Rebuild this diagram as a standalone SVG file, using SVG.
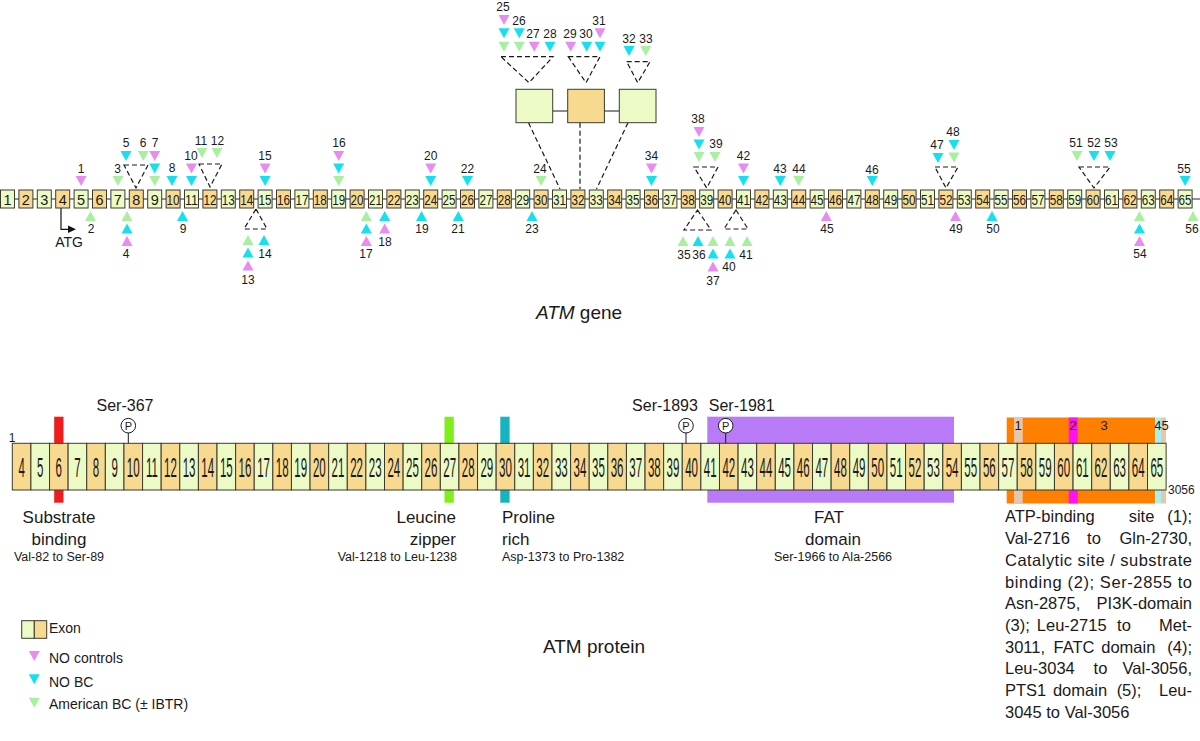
<svg xmlns="http://www.w3.org/2000/svg" width="1200" height="741" viewBox="0 0 1200 741">
<style>
text{font-family:"Liberation Sans",Arial,sans-serif;fill:#1a1a1a}
.eg{fill:#ecfbc6;stroke:#3b3b30;stroke-width:1}
.eo{fill:#f7d98f;stroke:#3b3b30;stroke-width:1}
.en{font-size:14.5px;text-anchor:middle}
.ml{font-size:12px;text-anchor:middle}
.pk{fill:#e88cf2}
.cy{fill:#14e0f0}
.gr{fill:#a8f0a0}
.dash{fill:none;stroke:#1a1a1a;stroke-width:1.2;stroke-dasharray:5 3}
.bb{stroke:#6e6e6e;stroke-width:1.6}
.pn{font-size:16px;text-anchor:middle}
.lbl{font-size:17px}
.rng{font-size:12.5px}
.par{font-size:16.5px}
.leg{font-size:14px}
.ser{font-size:16px;text-anchor:middle}
.pc{fill:#fff;stroke:#1a1a1a;stroke-width:1}
.pt{font-size:11px;text-anchor:middle}
.dl{font-size:13px;text-anchor:middle}
.sm{font-size:12px}
.ttl{font-size:19px;text-anchor:middle}
</style>
<defs>
<polygon id="td" points="-5.5,0 5.5,0 0,10"/>
<polygon id="tu" points="0,0 5.5,10 -5.5,10"/>
</defs>

<g id="connectors">
<line class="bb" x1="0" y1="199" x2="1200" y2="199"/>
<line class="bb" x1="552.7" y1="111" x2="567.7" y2="111"/>
<line class="bb" x1="604.3" y1="111" x2="619.3" y2="111"/>
<line class="dash" x1="528.5" y1="122.7" x2="560" y2="189"/>
<line class="dash" x1="580" y1="122.7" x2="580" y2="189"/>
<line class="dash" x1="628" y1="122.7" x2="596.5" y2="189"/>
<polygon class="dash" points="501,56.7 553,56.7 529,82.7"/>
<polygon class="dash" points="568.3,56.7 600,56.7 586,82.7"/>
<polygon class="dash" points="626.7,61.7 650,61.7 637.7,82.7"/>
<polygon class="dash" points="124,165 148,165 136,188"/>
<polygon class="dash" points="199,164 222,164 210,187"/>
<polygon class="dash" points="256,209 267,229 244,229"/>
<polygon class="dash" points="694,167 718,167 706.7,188"/>
<polygon class="dash" points="697.5,210 711,230 684,230"/>
<polygon class="dash" points="736,210 748,229 724,229"/>
<polygon class="dash" points="935,167 958,167 946,188"/>
<polygon class="dash" points="1079,167 1110,167 1094,188"/>
<path d="M61,208 V229.3 H70" fill="none" stroke="#111" stroke-width="1.2"/>
<polygon points="68,225.5 76,229.3 68,233" fill="#111"/>
</g>

<g id="inset">
<rect id="insetA" class="eg" x="516" y="89.3" width="36.7" height="33.4"/>
<rect id="insetB" class="eo" x="567.7" y="89.3" width="36.7" height="33.4"/>
<rect id="insetC" class="eg" x="619.3" y="89.3" width="36.7" height="33.4"/>
</g>

<g id="gene">
<g id="exon1" transform="translate(0.5 190)"><rect class="eg" width="14" height="18"/><text class="en" x="7" y="15">1</text></g>
<g id="exon2" transform="translate(18.9 190)"><rect class="eo" width="14" height="18"/><text class="en" x="7" y="15">2</text></g>
<g id="exon3" transform="translate(37.3 190)"><rect class="eg" width="14" height="18"/><text class="en" x="7" y="15">3</text></g>
<g id="exon4" transform="translate(55.7 190)"><rect class="eo" width="14" height="18"/><text class="en" x="7" y="15">4</text></g>
<g id="exon5" transform="translate(74.1 190)"><rect class="eg" width="14" height="18"/><text class="en" x="7" y="15">5</text></g>
<g id="exon6" transform="translate(92.5 190)"><rect class="eo" width="14" height="18"/><text class="en" x="7" y="15">6</text></g>
<g id="exon7" transform="translate(110.9 190)"><rect class="eg" width="14" height="18"/><text class="en" x="7" y="15">7</text></g>
<g id="exon8" transform="translate(129.3 190)"><rect class="eo" width="14" height="18"/><text class="en" x="7" y="15">8</text></g>
<g id="exon9" transform="translate(147.7 190)"><rect class="eg" width="14" height="18"/><text class="en" x="7" y="15">9</text></g>
<g id="exon10" transform="translate(166.1 190)"><rect class="eo" width="14" height="18"/><text class="en" x="7" y="15" textLength="13" lengthAdjust="spacingAndGlyphs">10</text></g>
<g id="exon11" transform="translate(184.5 190)"><rect class="eg" width="14" height="18"/><text class="en" x="7" y="15" textLength="13" lengthAdjust="spacingAndGlyphs">11</text></g>
<g id="exon12" transform="translate(202.9 190)"><rect class="eo" width="14" height="18"/><text class="en" x="7" y="15" textLength="13" lengthAdjust="spacingAndGlyphs">12</text></g>
<g id="exon13" transform="translate(221.3 190)"><rect class="eg" width="14" height="18"/><text class="en" x="7" y="15" textLength="13" lengthAdjust="spacingAndGlyphs">13</text></g>
<g id="exon14" transform="translate(239.7 190)"><rect class="eo" width="14" height="18"/><text class="en" x="7" y="15" textLength="13" lengthAdjust="spacingAndGlyphs">14</text></g>
<g id="exon15" transform="translate(258.1 190)"><rect class="eg" width="14" height="18"/><text class="en" x="7" y="15" textLength="13" lengthAdjust="spacingAndGlyphs">15</text></g>
<g id="exon16" transform="translate(276.5 190)"><rect class="eo" width="14" height="18"/><text class="en" x="7" y="15" textLength="13" lengthAdjust="spacingAndGlyphs">16</text></g>
<g id="exon17" transform="translate(294.9 190)"><rect class="eg" width="14" height="18"/><text class="en" x="7" y="15" textLength="13" lengthAdjust="spacingAndGlyphs">17</text></g>
<g id="exon18" transform="translate(313.3 190)"><rect class="eo" width="14" height="18"/><text class="en" x="7" y="15" textLength="13" lengthAdjust="spacingAndGlyphs">18</text></g>
<g id="exon19" transform="translate(331.7 190)"><rect class="eg" width="14" height="18"/><text class="en" x="7" y="15" textLength="13" lengthAdjust="spacingAndGlyphs">19</text></g>
<g id="exon20" transform="translate(350.1 190)"><rect class="eo" width="14" height="18"/><text class="en" x="7" y="15" textLength="13" lengthAdjust="spacingAndGlyphs">20</text></g>
<g id="exon21" transform="translate(368.5 190)"><rect class="eg" width="14" height="18"/><text class="en" x="7" y="15" textLength="13" lengthAdjust="spacingAndGlyphs">21</text></g>
<g id="exon22" transform="translate(386.9 190)"><rect class="eo" width="14" height="18"/><text class="en" x="7" y="15" textLength="13" lengthAdjust="spacingAndGlyphs">22</text></g>
<g id="exon23" transform="translate(405.3 190)"><rect class="eg" width="14" height="18"/><text class="en" x="7" y="15" textLength="13" lengthAdjust="spacingAndGlyphs">23</text></g>
<g id="exon24" transform="translate(423.7 190)"><rect class="eo" width="14" height="18"/><text class="en" x="7" y="15" textLength="13" lengthAdjust="spacingAndGlyphs">24</text></g>
<g id="exon25" transform="translate(442.1 190)"><rect class="eg" width="14" height="18"/><text class="en" x="7" y="15" textLength="13" lengthAdjust="spacingAndGlyphs">25</text></g>
<g id="exon26" transform="translate(460.5 190)"><rect class="eo" width="14" height="18"/><text class="en" x="7" y="15" textLength="13" lengthAdjust="spacingAndGlyphs">26</text></g>
<g id="exon27" transform="translate(478.9 190)"><rect class="eg" width="14" height="18"/><text class="en" x="7" y="15" textLength="13" lengthAdjust="spacingAndGlyphs">27</text></g>
<g id="exon28" transform="translate(497.3 190)"><rect class="eo" width="14" height="18"/><text class="en" x="7" y="15" textLength="13" lengthAdjust="spacingAndGlyphs">28</text></g>
<g id="exon29" transform="translate(515.7 190)"><rect class="eg" width="14" height="18"/><text class="en" x="7" y="15" textLength="13" lengthAdjust="spacingAndGlyphs">29</text></g>
<g id="exon30" transform="translate(534.1 190)"><rect class="eo" width="14" height="18"/><text class="en" x="7" y="15" textLength="13" lengthAdjust="spacingAndGlyphs">30</text></g>
<g id="exon31" transform="translate(552.5 190)"><rect class="eg" width="14" height="18"/><text class="en" x="7" y="15" textLength="13" lengthAdjust="spacingAndGlyphs">31</text></g>
<g id="exon32" transform="translate(570.9 190)"><rect class="eo" width="14" height="18"/><text class="en" x="7" y="15" textLength="13" lengthAdjust="spacingAndGlyphs">32</text></g>
<g id="exon33" transform="translate(589.3 190)"><rect class="eg" width="14" height="18"/><text class="en" x="7" y="15" textLength="13" lengthAdjust="spacingAndGlyphs">33</text></g>
<g id="exon34" transform="translate(607.7 190)"><rect class="eo" width="14" height="18"/><text class="en" x="7" y="15" textLength="13" lengthAdjust="spacingAndGlyphs">34</text></g>
<g id="exon35" transform="translate(626.1 190)"><rect class="eg" width="14" height="18"/><text class="en" x="7" y="15" textLength="13" lengthAdjust="spacingAndGlyphs">35</text></g>
<g id="exon36" transform="translate(644.5 190)"><rect class="eo" width="14" height="18" stroke="#000" stroke-width="1.5"/><text class="en" x="7" y="15" textLength="13" lengthAdjust="spacingAndGlyphs">36</text></g>
<g id="exon37" transform="translate(662.9 190)"><rect class="eg" width="14" height="18"/><text class="en" x="7" y="15" textLength="13" lengthAdjust="spacingAndGlyphs">37</text></g>
<g id="exon38" transform="translate(681.3 190)"><rect class="eo" width="14" height="18"/><text class="en" x="7" y="15" textLength="13" lengthAdjust="spacingAndGlyphs">38</text></g>
<g id="exon39" transform="translate(699.7 190)"><rect class="eg" width="14" height="18"/><text class="en" x="7" y="15" textLength="13" lengthAdjust="spacingAndGlyphs">39</text></g>
<g id="exon40" transform="translate(718.1 190)"><rect class="eo" width="14" height="18"/><text class="en" x="7" y="15" textLength="13" lengthAdjust="spacingAndGlyphs">40</text></g>
<g id="exon41" transform="translate(736.5 190)"><rect class="eg" width="14" height="18"/><text class="en" x="7" y="15" textLength="13" lengthAdjust="spacingAndGlyphs">41</text></g>
<g id="exon42" transform="translate(754.9 190)"><rect class="eo" width="14" height="18"/><text class="en" x="7" y="15" textLength="13" lengthAdjust="spacingAndGlyphs">42</text></g>
<g id="exon43" transform="translate(773.3 190)"><rect class="eg" width="14" height="18"/><text class="en" x="7" y="15" textLength="13" lengthAdjust="spacingAndGlyphs">43</text></g>
<g id="exon44" transform="translate(791.7 190)"><rect class="eo" width="14" height="18"/><text class="en" x="7" y="15" textLength="13" lengthAdjust="spacingAndGlyphs">44</text></g>
<g id="exon45" transform="translate(810.1 190)"><rect class="eg" width="14" height="18"/><text class="en" x="7" y="15" textLength="13" lengthAdjust="spacingAndGlyphs">45</text></g>
<g id="exon46" transform="translate(828.5 190)"><rect class="eo" width="14" height="18"/><text class="en" x="7" y="15" textLength="13" lengthAdjust="spacingAndGlyphs">46</text></g>
<g id="exon47" transform="translate(846.9 190)"><rect class="eg" width="14" height="18"/><text class="en" x="7" y="15" textLength="13" lengthAdjust="spacingAndGlyphs">47</text></g>
<g id="exon48" transform="translate(865.3 190)"><rect class="eo" width="14" height="18"/><text class="en" x="7" y="15" textLength="13" lengthAdjust="spacingAndGlyphs">48</text></g>
<g id="exon49" transform="translate(883.7 190)"><rect class="eg" width="14" height="18"/><text class="en" x="7" y="15" textLength="13" lengthAdjust="spacingAndGlyphs">49</text></g>
<g id="exon50" transform="translate(902.1 190)"><rect class="eo" width="14" height="18"/><text class="en" x="7" y="15" textLength="13" lengthAdjust="spacingAndGlyphs">50</text></g>
<g id="exon51" transform="translate(920.5 190)"><rect class="eg" width="14" height="18"/><text class="en" x="7" y="15" textLength="13" lengthAdjust="spacingAndGlyphs">51</text></g>
<g id="exon52" transform="translate(938.9 190)"><rect class="eo" width="14" height="18"/><text class="en" x="7" y="15" textLength="13" lengthAdjust="spacingAndGlyphs">52</text></g>
<g id="exon53" transform="translate(957.3 190)"><rect class="eg" width="14" height="18"/><text class="en" x="7" y="15" textLength="13" lengthAdjust="spacingAndGlyphs">53</text></g>
<g id="exon54" transform="translate(975.7 190)"><rect class="eo" width="14" height="18"/><text class="en" x="7" y="15" textLength="13" lengthAdjust="spacingAndGlyphs">54</text></g>
<g id="exon55" transform="translate(994.1 190)"><rect class="eg" width="14" height="18"/><text class="en" x="7" y="15" textLength="13" lengthAdjust="spacingAndGlyphs">55</text></g>
<g id="exon56" transform="translate(1012.5 190)"><rect class="eo" width="14" height="18"/><text class="en" x="7" y="15" textLength="13" lengthAdjust="spacingAndGlyphs">56</text></g>
<g id="exon57" transform="translate(1030.9 190)"><rect class="eg" width="14" height="18"/><text class="en" x="7" y="15" textLength="13" lengthAdjust="spacingAndGlyphs">57</text></g>
<g id="exon58" transform="translate(1049.3 190)"><rect class="eo" width="14" height="18"/><text class="en" x="7" y="15" textLength="13" lengthAdjust="spacingAndGlyphs">58</text></g>
<g id="exon59" transform="translate(1067.7 190)"><rect class="eg" width="14" height="18"/><text class="en" x="7" y="15" textLength="13" lengthAdjust="spacingAndGlyphs">59</text></g>
<g id="exon60" transform="translate(1086.1 190)"><rect class="eo" width="14" height="18"/><text class="en" x="7" y="15" textLength="13" lengthAdjust="spacingAndGlyphs">60</text></g>
<g id="exon61" transform="translate(1104.5 190)"><rect class="eg" width="14" height="18"/><text class="en" x="7" y="15" textLength="13" lengthAdjust="spacingAndGlyphs">61</text></g>
<g id="exon62" transform="translate(1122.9 190)"><rect class="eo" width="14" height="18"/><text class="en" x="7" y="15" textLength="13" lengthAdjust="spacingAndGlyphs">62</text></g>
<g id="exon63" transform="translate(1141.3 190)"><rect class="eg" width="14" height="18"/><text class="en" x="7" y="15" textLength="13" lengthAdjust="spacingAndGlyphs">63</text></g>
<g id="exon64" transform="translate(1159.7 190)"><rect class="eo" width="14" height="18"/><text class="en" x="7" y="15" textLength="13" lengthAdjust="spacingAndGlyphs">64</text></g>
<g id="exon65" transform="translate(1178.1 190)"><rect class="eg" width="14" height="18"/><text class="en" x="7" y="15" textLength="13" lengthAdjust="spacingAndGlyphs">65</text></g>
<text id="atg" x="69" y="247" font-size="14" text-anchor="middle">ATG</text>
</g>

<g id="mutations">
<g id="m1"><use href="#td" x="81.1" y="176" class="pk"/><text class="ml" x="81" y="173">1</text></g>
<g id="m2"><use href="#tu" x="90.5" y="211" class="gr"/><text class="ml" x="91" y="232.5">2</text></g>
<g id="m3"><use href="#td" x="117.9" y="176" class="gr"/><text class="ml" x="117.5" y="173">3</text></g>
<g id="m4"><use href="#tu" x="127" y="211" class="gr"/><use href="#tu" x="127" y="223.5" class="cy"/><use href="#tu" x="127" y="236" class="pk"/><text class="ml" x="126" y="257.5">4</text></g>
<g id="m5"><use href="#td" x="126" y="151" class="cy"/><text class="ml" x="126" y="147">5</text></g>
<g id="m6"><use href="#td" x="143.3" y="151" class="gr"/><text class="ml" x="143" y="147">6</text></g>
<g id="m7"><use href="#td" x="154.7" y="151" class="pk"/><use href="#td" x="154.7" y="163.5" class="cy"/><use href="#td" x="154.7" y="176" class="gr"/><text class="ml" x="155" y="147">7</text></g>
<g id="m8"><use href="#td" x="172" y="176" class="cy"/><text class="ml" x="172" y="172">8</text></g>
<g id="m9"><use href="#tu" x="182.5" y="211" class="cy"/><text class="ml" x="183" y="232.5">9</text></g>
<g id="m10"><use href="#td" x="191.5" y="163.5" class="pk"/><use href="#td" x="191.5" y="176" class="cy"/><text class="ml" x="191" y="160">10</text></g>
<g id="m11"><use href="#td" x="202" y="148" class="gr"/><text class="ml" x="201" y="144.5">11</text></g>
<g id="m12"><use href="#td" x="217" y="148" class="gr"/><text class="ml" x="217.5" y="144.5">12</text></g>
<g id="m13"><use href="#tu" x="248" y="235" class="gr"/><use href="#tu" x="248" y="247.5" class="cy"/><use href="#tu" x="248" y="260.5" class="pk"/><text class="ml" x="248" y="283.5">13</text></g>
<g id="m14"><use href="#tu" x="264" y="235" class="cy"/><text class="ml" x="265" y="257.5">14</text></g>
<g id="m15"><use href="#td" x="265.1" y="163.5" class="pk"/><use href="#td" x="265.1" y="176" class="cy"/><text class="ml" x="265" y="160">15</text></g>
<g id="m16"><use href="#td" x="338.7" y="151" class="pk"/><use href="#td" x="338.7" y="163.5" class="cy"/><use href="#td" x="338.7" y="176" class="gr"/><text class="ml" x="339" y="146.5">16</text></g>
<g id="m17"><use href="#tu" x="366.3" y="211" class="gr"/><use href="#tu" x="366.3" y="223.5" class="cy"/><use href="#tu" x="366.3" y="236" class="pk"/><text class="ml" x="366" y="258">17</text></g>
<g id="m18"><use href="#tu" x="384.7" y="211" class="cy"/><use href="#tu" x="384.7" y="223.5" class="pk"/><text class="ml" x="385" y="246">18</text></g>
<g id="m19"><use href="#tu" x="421.5" y="211" class="cy"/><text class="ml" x="422" y="233">19</text></g>
<g id="m20"><use href="#td" x="430.7" y="163.5" class="pk"/><use href="#td" x="430.7" y="176" class="cy"/><text class="ml" x="430.7" y="160">20</text></g>
<g id="m21"><use href="#tu" x="458.3" y="211" class="cy"/><text class="ml" x="458" y="233">21</text></g>
<g id="m22"><use href="#td" x="467.5" y="176" class="cy"/><text class="ml" x="467.5" y="173">22</text></g>
<g id="m23"><use href="#tu" x="532" y="211" class="cy"/><text class="ml" x="532" y="233">23</text></g>
<g id="m24"><use href="#td" x="541.1" y="176" class="gr"/><text class="ml" x="540" y="173">24</text></g>
<g id="m25"><use href="#td" x="504" y="15" class="pk"/><use href="#td" x="504" y="28.3" class="cy"/><use href="#td" x="504" y="41.7" class="gr"/><text class="ml" x="503" y="10.5">25</text></g>
<g id="m26"><use href="#td" x="519.3" y="28.3" class="cy"/><use href="#td" x="519.3" y="41.7" class="gr"/><text class="ml" x="519" y="25">26</text></g>
<g id="m27"><use href="#td" x="534.3" y="41.7" class="pk"/><text class="ml" x="533" y="37.5">27</text></g>
<g id="m28"><use href="#td" x="550" y="41.7" class="cy"/><text class="ml" x="550" y="37.5">28</text></g>
<g id="m29"><use href="#td" x="570.7" y="41.7" class="pk"/><text class="ml" x="570" y="37.5">29</text></g>
<g id="m30"><use href="#td" x="586.7" y="41.7" class="cy"/><text class="ml" x="586" y="37.5">30</text></g>
<g id="m31"><use href="#td" x="600" y="28.3" class="pk"/><use href="#td" x="600" y="41.7" class="cy"/><text class="ml" x="599" y="25">31</text></g>
<g id="m32"><use href="#td" x="629" y="46" class="cy"/><text class="ml" x="629" y="42.5">32</text></g>
<g id="m33"><use href="#td" x="645.7" y="46" class="gr"/><text class="ml" x="646" y="42.5">33</text></g>
<g id="m34"><use href="#td" x="651.5" y="163.5" class="pk"/><use href="#td" x="651.5" y="176" class="cy"/><text class="ml" x="651.5" y="160">34</text></g>
<g id="m35"><use href="#tu" x="683" y="236" class="gr"/><text class="ml" x="684" y="259">35</text></g>
<g id="m36"><use href="#tu" x="698" y="236" class="cy"/><text class="ml" x="699" y="259">36</text></g>
<g id="m37"><use href="#tu" x="713" y="236" class="gr"/><use href="#tu" x="713" y="248.5" class="cy"/><use href="#tu" x="713" y="261.5" class="pk"/><text class="ml" x="713" y="285">37</text></g>
<g id="m38"><use href="#td" x="699" y="127" class="pk"/><use href="#td" x="699" y="139.5" class="cy"/><use href="#td" x="699" y="152" class="gr"/><text class="ml" x="698" y="123">38</text></g>
<g id="m39"><use href="#td" x="715" y="152" class="gr"/><text class="ml" x="716" y="148">39</text></g>
<g id="m40"><use href="#tu" x="730" y="236" class="gr"/><use href="#tu" x="730" y="248.5" class="cy"/><text class="ml" x="729" y="271">40</text></g>
<g id="m41"><use href="#tu" x="747" y="236" class="gr"/><text class="ml" x="746" y="259">41</text></g>
<g id="m42"><use href="#td" x="743.5" y="163.5" class="pk"/><use href="#td" x="743.5" y="176" class="cy"/><text class="ml" x="743.5" y="160">42</text></g>
<g id="m43"><use href="#td" x="780.3" y="176" class="cy"/><text class="ml" x="780" y="173">43</text></g>
<g id="m44"><use href="#td" x="798.7" y="176" class="gr"/><text class="ml" x="799" y="173">44</text></g>
<g id="m45"><use href="#tu" x="826.3" y="211" class="pk"/><text class="ml" x="827" y="232.5">45</text></g>
<g id="m46"><use href="#td" x="872.3" y="176" class="cy"/><text class="ml" x="872" y="174">46</text></g>
<g id="m47"><use href="#td" x="938" y="153" class="cy"/><text class="ml" x="937" y="148.5">47</text></g>
<g id="m48"><use href="#td" x="954" y="140" class="cy"/><use href="#td" x="954" y="152.5" class="gr"/><text class="ml" x="953" y="136">48</text></g>
<g id="m49"><use href="#tu" x="955.5" y="211" class="pk"/><text class="ml" x="956" y="232.5">49</text></g>
<g id="m50"><use href="#tu" x="992" y="211" class="cy"/><text class="ml" x="993" y="233">50</text></g>
<g id="m51"><use href="#td" x="1077" y="151" class="gr"/><text class="ml" x="1076" y="147">51</text></g>
<g id="m52"><use href="#td" x="1094" y="151" class="cy"/><text class="ml" x="1094" y="147">52</text></g>
<g id="m53"><use href="#td" x="1110" y="151" class="cy"/><text class="ml" x="1111" y="147">53</text></g>
<g id="m54"><use href="#tu" x="1139.5" y="211" class="gr"/><use href="#tu" x="1139.5" y="223.5" class="cy"/><use href="#tu" x="1139.5" y="236" class="pk"/><text class="ml" x="1140" y="258">54</text></g>
<g id="m55"><use href="#td" x="1185.1" y="176" class="cy"/><text class="ml" x="1184" y="173">55</text></g>
<g id="m56"><use href="#tu" x="1193" y="211" class="gr"/><text class="ml" x="1192" y="233">56</text></g>
</g>

<text id="gene-title" class="ttl" x="579" y="318.5"><tspan font-style="italic">ATM</tspan> gene</text>

<g id="domains">
<rect id="d-substrate" x="54.2" y="416.7" width="9.3" height="86" fill="#ee1c1c"/>
<rect id="d-leucine" x="444.5" y="416.7" width="9.3" height="86" fill="#80ee18"/>
<rect id="d-proline" x="500.3" y="416.7" width="9.3" height="86" fill="#16b4be"/>
<rect id="d-fat" x="707.3" y="416.7" width="246.7" height="86" fill="#b97af8"/>
<rect id="d-pi3k" x="1006.7" y="417.5" width="148.5" height="86" fill="#ff8000"/>
<rect id="d-atp" x="1014" y="417.5" width="8.7" height="86" fill="#e8c6aa"/>
<rect id="d-cat" x="1068.7" y="417.5" width="9" height="86" fill="#ff14f0"/>
<rect id="d-fatc" x="1156" y="417.5" width="5" height="86" fill="#a8f0f0"/>
<rect id="d-pts1" x="1161" y="417.5" width="5" height="86" fill="#e8c6aa"/>
<text class="dl" x="1018" y="430">1</text>
<text class="dl" x="1073" y="430">2</text>
<text class="dl" x="1104" y="430">3</text>
<text class="dl" x="1161.5" y="430">45</text>
</g>

<g id="protein">
<g id="p4" transform="translate(12.3 443.3)"><rect class="eo" width="18.61" height="46.7"/><text class="pn" transform="translate(9.3 33.7) scale(0.72 1.75)">4</text></g>
<g id="p5" transform="translate(30.91 443.3)"><rect class="eg" width="18.61" height="46.7"/><text class="pn" transform="translate(9.3 33.7) scale(0.72 1.75)">5</text></g>
<g id="p6" transform="translate(49.52 443.3)"><rect class="eo" width="18.61" height="46.7"/><text class="pn" transform="translate(9.3 33.7) scale(0.72 1.75)">6</text></g>
<g id="p7" transform="translate(68.13 443.3)"><rect class="eg" width="18.61" height="46.7"/><text class="pn" transform="translate(9.3 33.7) scale(0.72 1.75)">7</text></g>
<g id="p8" transform="translate(86.74 443.3)"><rect class="eo" width="18.61" height="46.7"/><text class="pn" transform="translate(9.3 33.7) scale(0.72 1.75)">8</text></g>
<g id="p9" transform="translate(105.35 443.3)"><rect class="eg" width="18.61" height="46.7"/><text class="pn" transform="translate(9.3 33.7) scale(0.72 1.75)">9</text></g>
<g id="p10" transform="translate(123.96 443.3)"><rect class="eo" width="18.61" height="46.7"/><text class="pn" transform="translate(9.3 33.7) scale(0.72 1.75)">10</text></g>
<g id="p11" transform="translate(142.57 443.3)"><rect class="eg" width="18.61" height="46.7"/><text class="pn" transform="translate(9.3 33.7) scale(0.72 1.75)">11</text></g>
<g id="p12" transform="translate(161.18 443.3)"><rect class="eo" width="18.61" height="46.7"/><text class="pn" transform="translate(9.3 33.7) scale(0.72 1.75)">12</text></g>
<g id="p13" transform="translate(179.79 443.3)"><rect class="eg" width="18.61" height="46.7"/><text class="pn" transform="translate(9.3 33.7) scale(0.72 1.75)">13</text></g>
<g id="p14" transform="translate(198.4 443.3)"><rect class="eo" width="18.61" height="46.7"/><text class="pn" transform="translate(9.3 33.7) scale(0.72 1.75)">14</text></g>
<g id="p15" transform="translate(217.01 443.3)"><rect class="eg" width="18.61" height="46.7"/><text class="pn" transform="translate(9.3 33.7) scale(0.72 1.75)">15</text></g>
<g id="p16" transform="translate(235.62 443.3)"><rect class="eo" width="18.61" height="46.7"/><text class="pn" transform="translate(9.3 33.7) scale(0.72 1.75)">16</text></g>
<g id="p17" transform="translate(254.23 443.3)"><rect class="eg" width="18.61" height="46.7"/><text class="pn" transform="translate(9.3 33.7) scale(0.72 1.75)">17</text></g>
<g id="p18" transform="translate(272.84 443.3)"><rect class="eo" width="18.61" height="46.7"/><text class="pn" transform="translate(9.3 33.7) scale(0.72 1.75)">18</text></g>
<g id="p19" transform="translate(291.45 443.3)"><rect class="eg" width="18.61" height="46.7"/><text class="pn" transform="translate(9.3 33.7) scale(0.72 1.75)">19</text></g>
<g id="p20" transform="translate(310.06 443.3)"><rect class="eo" width="18.61" height="46.7"/><text class="pn" transform="translate(9.3 33.7) scale(0.72 1.75)">20</text></g>
<g id="p21" transform="translate(328.67 443.3)"><rect class="eg" width="18.61" height="46.7"/><text class="pn" transform="translate(9.3 33.7) scale(0.72 1.75)">21</text></g>
<g id="p22" transform="translate(347.28 443.3)"><rect class="eo" width="18.61" height="46.7"/><text class="pn" transform="translate(9.3 33.7) scale(0.72 1.75)">22</text></g>
<g id="p23" transform="translate(365.89 443.3)"><rect class="eg" width="18.61" height="46.7"/><text class="pn" transform="translate(9.3 33.7) scale(0.72 1.75)">23</text></g>
<g id="p24" transform="translate(384.5 443.3)"><rect class="eo" width="18.61" height="46.7"/><text class="pn" transform="translate(9.3 33.7) scale(0.72 1.75)">24</text></g>
<g id="p25" transform="translate(403.11 443.3)"><rect class="eg" width="18.61" height="46.7"/><text class="pn" transform="translate(9.3 33.7) scale(0.72 1.75)">25</text></g>
<g id="p26" transform="translate(421.72 443.3)"><rect class="eo" width="18.61" height="46.7"/><text class="pn" transform="translate(9.3 33.7) scale(0.72 1.75)">26</text></g>
<g id="p27" transform="translate(440.33 443.3)"><rect class="eg" width="18.61" height="46.7"/><text class="pn" transform="translate(9.3 33.7) scale(0.72 1.75)">27</text></g>
<g id="p28" transform="translate(458.94 443.3)"><rect class="eo" width="18.61" height="46.7"/><text class="pn" transform="translate(9.3 33.7) scale(0.72 1.75)">28</text></g>
<g id="p29" transform="translate(477.55 443.3)"><rect class="eg" width="18.61" height="46.7"/><text class="pn" transform="translate(9.3 33.7) scale(0.72 1.75)">29</text></g>
<g id="p30" transform="translate(496.16 443.3)"><rect class="eo" width="18.61" height="46.7"/><text class="pn" transform="translate(9.3 33.7) scale(0.72 1.75)">30</text></g>
<g id="p31" transform="translate(514.77 443.3)"><rect class="eg" width="18.61" height="46.7"/><text class="pn" transform="translate(9.3 33.7) scale(0.72 1.75)">31</text></g>
<g id="p32" transform="translate(533.38 443.3)"><rect class="eo" width="18.61" height="46.7"/><text class="pn" transform="translate(9.3 33.7) scale(0.72 1.75)">32</text></g>
<g id="p33" transform="translate(551.99 443.3)"><rect class="eg" width="18.61" height="46.7"/><text class="pn" transform="translate(9.3 33.7) scale(0.72 1.75)">33</text></g>
<g id="p34" transform="translate(570.6 443.3)"><rect class="eo" width="18.61" height="46.7"/><text class="pn" transform="translate(9.3 33.7) scale(0.72 1.75)">34</text></g>
<g id="p35" transform="translate(589.21 443.3)"><rect class="eg" width="18.61" height="46.7"/><text class="pn" transform="translate(9.3 33.7) scale(0.72 1.75)">35</text></g>
<g id="p36" transform="translate(607.82 443.3)"><rect class="eo" width="18.61" height="46.7"/><text class="pn" transform="translate(9.3 33.7) scale(0.72 1.75)">36</text></g>
<g id="p37" transform="translate(626.43 443.3)"><rect class="eg" width="18.61" height="46.7"/><text class="pn" transform="translate(9.3 33.7) scale(0.72 1.75)">37</text></g>
<g id="p38" transform="translate(645.04 443.3)"><rect class="eo" width="18.61" height="46.7"/><text class="pn" transform="translate(9.3 33.7) scale(0.72 1.75)">38</text></g>
<g id="p39" transform="translate(663.65 443.3)"><rect class="eg" width="18.61" height="46.7"/><text class="pn" transform="translate(9.3 33.7) scale(0.72 1.75)">39</text></g>
<g id="p40" transform="translate(682.26 443.3)"><rect class="eo" width="18.61" height="46.7"/><text class="pn" transform="translate(9.3 33.7) scale(0.72 1.75)">40</text></g>
<g id="p41" transform="translate(700.87 443.3)"><rect class="eg" width="18.61" height="46.7"/><text class="pn" transform="translate(9.3 33.7) scale(0.72 1.75)">41</text></g>
<g id="p42" transform="translate(719.48 443.3)"><rect class="eo" width="18.61" height="46.7"/><text class="pn" transform="translate(9.3 33.7) scale(0.72 1.75)">42</text></g>
<g id="p43" transform="translate(738.09 443.3)"><rect class="eg" width="18.61" height="46.7"/><text class="pn" transform="translate(9.3 33.7) scale(0.72 1.75)">43</text></g>
<g id="p44" transform="translate(756.7 443.3)"><rect class="eo" width="18.61" height="46.7"/><text class="pn" transform="translate(9.3 33.7) scale(0.72 1.75)">44</text></g>
<g id="p45" transform="translate(775.31 443.3)"><rect class="eg" width="18.61" height="46.7"/><text class="pn" transform="translate(9.3 33.7) scale(0.72 1.75)">45</text></g>
<g id="p46" transform="translate(793.92 443.3)"><rect class="eo" width="18.61" height="46.7"/><text class="pn" transform="translate(9.3 33.7) scale(0.72 1.75)">46</text></g>
<g id="p47" transform="translate(812.53 443.3)"><rect class="eg" width="18.61" height="46.7"/><text class="pn" transform="translate(9.3 33.7) scale(0.72 1.75)">47</text></g>
<g id="p48" transform="translate(831.14 443.3)"><rect class="eo" width="18.61" height="46.7"/><text class="pn" transform="translate(9.3 33.7) scale(0.72 1.75)">48</text></g>
<g id="p49" transform="translate(849.75 443.3)"><rect class="eg" width="18.61" height="46.7"/><text class="pn" transform="translate(9.3 33.7) scale(0.72 1.75)">49</text></g>
<g id="p50" transform="translate(868.36 443.3)"><rect class="eo" width="18.61" height="46.7"/><text class="pn" transform="translate(9.3 33.7) scale(0.72 1.75)">50</text></g>
<g id="p51" transform="translate(886.97 443.3)"><rect class="eg" width="18.61" height="46.7"/><text class="pn" transform="translate(9.3 33.7) scale(0.72 1.75)">51</text></g>
<g id="p52" transform="translate(905.58 443.3)"><rect class="eo" width="18.61" height="46.7"/><text class="pn" transform="translate(9.3 33.7) scale(0.72 1.75)">52</text></g>
<g id="p53" transform="translate(924.19 443.3)"><rect class="eg" width="18.61" height="46.7"/><text class="pn" transform="translate(9.3 33.7) scale(0.72 1.75)">53</text></g>
<g id="p54" transform="translate(942.8 443.3)"><rect class="eo" width="18.61" height="46.7"/><text class="pn" transform="translate(9.3 33.7) scale(0.72 1.75)">54</text></g>
<g id="p55" transform="translate(961.41 443.3)"><rect class="eg" width="18.61" height="46.7"/><text class="pn" transform="translate(9.3 33.7) scale(0.72 1.75)">55</text></g>
<g id="p56" transform="translate(980.02 443.3)"><rect class="eo" width="18.61" height="46.7"/><text class="pn" transform="translate(9.3 33.7) scale(0.72 1.75)">56</text></g>
<g id="p57" transform="translate(998.63 443.3)"><rect class="eg" width="18.61" height="46.7"/><text class="pn" transform="translate(9.3 33.7) scale(0.72 1.75)">57</text></g>
<g id="p58" transform="translate(1017.24 443.3)"><rect class="eo" width="18.61" height="46.7"/><text class="pn" transform="translate(9.3 33.7) scale(0.72 1.75)">58</text></g>
<g id="p59" transform="translate(1035.85 443.3)"><rect class="eg" width="18.61" height="46.7"/><text class="pn" transform="translate(9.3 33.7) scale(0.72 1.75)">59</text></g>
<g id="p60" transform="translate(1054.46 443.3)"><rect class="eo" width="18.61" height="46.7"/><text class="pn" transform="translate(9.3 33.7) scale(0.72 1.75)">60</text></g>
<g id="p61" transform="translate(1073.07 443.3)"><rect class="eg" width="18.61" height="46.7"/><text class="pn" transform="translate(9.3 33.7) scale(0.72 1.75)">61</text></g>
<g id="p62" transform="translate(1091.68 443.3)"><rect class="eo" width="18.61" height="46.7"/><text class="pn" transform="translate(9.3 33.7) scale(0.72 1.75)">62</text></g>
<g id="p63" transform="translate(1110.29 443.3)"><rect class="eg" width="18.61" height="46.7"/><text class="pn" transform="translate(9.3 33.7) scale(0.72 1.75)">63</text></g>
<g id="p64" transform="translate(1128.9 443.3)"><rect class="eo" width="18.61" height="46.7"/><text class="pn" transform="translate(9.3 33.7) scale(0.72 1.75)">64</text></g>
<g id="p65" transform="translate(1147.51 443.3)"><rect class="eg" width="18.61" height="46.7"/><text class="pn" transform="translate(9.3 33.7) scale(0.72 1.75)">65</text></g>
<text class="sm" x="12" y="442" text-anchor="middle">1</text>
<text class="sm" x="1168" y="493.5">3056</text>
</g>

<g id="phospho">
<g id="ser367"><line x1="128.3" y1="433" x2="128.3" y2="443.3" stroke="#1a1a1a"/><circle class="pc" cx="128.3" cy="425.7" r="7.3"/><text class="pt" x="128.3" y="429.7">P</text><text class="ser" x="125" y="410.5">Ser-367</text></g>
<g id="ser1893"><line x1="686" y1="433" x2="686" y2="443.3" stroke="#1a1a1a"/><circle class="pc" cx="686" cy="425.7" r="7.3"/><text class="pt" x="686" y="429.7">P</text><text class="ser" x="665" y="410.5">Ser-1893</text></g>
<g id="ser1981"><line x1="725.7" y1="433" x2="725.7" y2="443.3" stroke="#1a1a1a"/><circle class="pc" cx="725.7" cy="425.7" r="7.3"/><text class="pt" x="725.7" y="429.7">P</text><text class="ser" x="741.7" y="410.5">Ser-1981</text></g>
</g>

<g id="annotations">
<text class="lbl" x="59" y="523" text-anchor="middle">Substrate</text>
<text class="lbl" x="59" y="544.5" text-anchor="middle">binding</text>
<text class="rng" x="59" y="561" text-anchor="middle">Val-82 to Ser-89</text>
<text class="lbl" x="456" y="523" text-anchor="end">Leucine</text>
<text class="lbl" x="456" y="544.5" text-anchor="end">zipper</text>
<text class="rng" x="457" y="561" text-anchor="end">Val-1218 to Leu-1238</text>
<text class="lbl" x="502" y="523">Proline</text>
<text class="lbl" x="502" y="544.5">rich</text>
<text class="rng" x="502" y="561">Asp-1373 to Pro-1382</text>
<text class="lbl" x="829" y="523" text-anchor="middle">FAT</text>
<text class="lbl" x="833" y="544.5" text-anchor="middle">domain</text>
<text class="rng" x="833" y="561" text-anchor="middle">Ser-1966 to Ala-2566</text>
</g>

<g id="kinase-text" class="par">
<text class="par" y="522"><tspan x="1005">ATP-binding</tspan><tspan x="1141.5" text-anchor="middle">site</tspan><tspan x="1192" text-anchor="end">(1);</tspan></text>
<text class="par" y="544"><tspan x="1005">Val-2716</tspan><tspan x="1094" text-anchor="middle">to</tspan><tspan x="1192" text-anchor="end">Gln-2730,</tspan></text>
<text class="par" x="1005" y="566" textLength="187" lengthAdjust="spacing">Catalytic site / substrate</text>
<text class="par" x="1005" y="588" textLength="187" lengthAdjust="spacing">binding (2); Ser-2855 to</text>
<text class="par" y="609"><tspan x="1005">Asn-2875,</tspan><tspan x="1192" text-anchor="end">PI3K-domain</tspan></text>
<text class="par" y="631"><tspan x="1005">(3);</tspan><tspan x="1071.7" text-anchor="middle">Leu-2715</tspan><tspan x="1124" text-anchor="middle">to</tspan><tspan x="1192" text-anchor="end">Met-</tspan></text>
<text class="par" y="653"><tspan x="1005">3011,</tspan><tspan x="1074" text-anchor="middle">FATC</tspan><tspan x="1128.3" text-anchor="middle">domain</tspan><tspan x="1192" text-anchor="end">(4);</tspan></text>
<text class="par" y="674"><tspan x="1005">Leu-3034</tspan><tspan x="1100.5" text-anchor="middle">to</tspan><tspan x="1192" text-anchor="end">Val-3056,</tspan></text>
<text class="par" y="696"><tspan x="1005">PTS1</tspan><tspan x="1080" text-anchor="middle">domain</tspan><tspan x="1129" text-anchor="middle">(5);</tspan><tspan x="1192" text-anchor="end">Leu-</tspan></text>
<text class="par" x="1005" y="718">3045 to Val-3056</text>
</g>

<text id="protein-title" class="ttl" x="594" y="653">ATM protein</text>

<g id="legend">
<rect class="eg" x="21.7" y="620.7" width="12.6" height="17.6"/>
<rect class="eo" x="34.3" y="620.7" width="12.4" height="17.6"/>
<text class="leg" x="49" y="633">Exon</text>
<use href="#td" x="34.3" y="651" class="pk"/>
<text class="leg" x="49" y="663">NO controls</text>
<use href="#td" x="34.3" y="674.3" class="cy"/>
<text class="leg" x="49" y="686.5">NO BC</text>
<use href="#td" x="34.3" y="697.7" class="gr"/>
<text class="leg" x="49" y="708.5">American BC (± IBTR)</text>
</g>
</svg>
